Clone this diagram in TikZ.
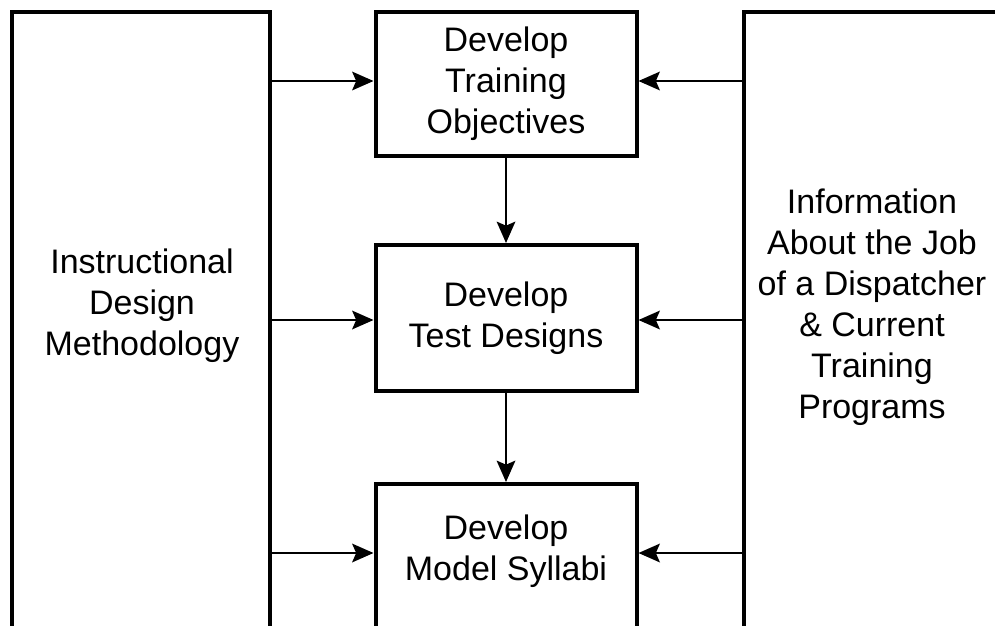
\documentclass[tikz,border=0pt]{standalone}
\usepackage{fontspec}
\setmainfont{Liberation Sans}
\usetikzlibrary{arrows.meta}
\begin{document}
\begin{tikzpicture}[x=0.75pt,y=-0.75pt,
        font=\fontsize{25.5}{30.75}\selectfont,
        lbl/.style={align=center},
        box/.style={lbl,draw,line width=3pt,minimum width=195.75pt},
        frame/.style={line width=3pt},
        arr/.style={line width=1.5pt,-{Stealth[length=16pt,width=14pt,inset=3pt]}}]
        \useasboundingbox (0,0) rectangle (995,625);
        \clip (0,0) rectangle (995,625);
        \draw[frame] (12,660) |- (270,12) -- (270,660);
        \draw[frame] (744,660) |- (1020,12);
        \node[box,minimum height=108pt] (objectives) at (506,84) {Develop\\Training\\Objectives};
        \node[box,minimum height=109.5pt] (designs) at (506,318) {Develop\\Test Designs};
        \node[box,minimum height=150pt,anchor=north] (syllabi) at (506,482) {};
        \node[lbl] (syllabitext) at (506,551) {Develop\\Model Syllabi};
        \node[lbl] (method) at (142,306) {Instructional\\Design\\Methodology};
        \node[lbl] (info) at (872,307) {Information\\About the Job\\of a Dispatcher\\\& Current\\Training\\Programs};
        \coordinate (l1) at (270,81);
        \coordinate (l2) at (270,320);
        \coordinate (l3) at (270,553);
        \coordinate (r1) at (744,81);
        \coordinate (r2) at (744,320);
        \coordinate (r3) at (744,553);
        \draw[arr] (l1) -- (l1 -| objectives.west);
        \draw[arr] (l2) -- (l2 -| designs.west);
        \draw[arr] (l3) -- (l3 -| syllabi.west);
        \draw[arr] (r1) -- (r1 -| objectives.east);
        \draw[arr] (r2) -- (r2 -| designs.east);
        \draw[arr] (r3) -- (r3 -| syllabi.east);
        \draw[arr] (objectives.south) -- (designs.north);
        \draw[arr] (designs.south) -- (syllabi.north);
    \end{tikzpicture}
\end{document}
